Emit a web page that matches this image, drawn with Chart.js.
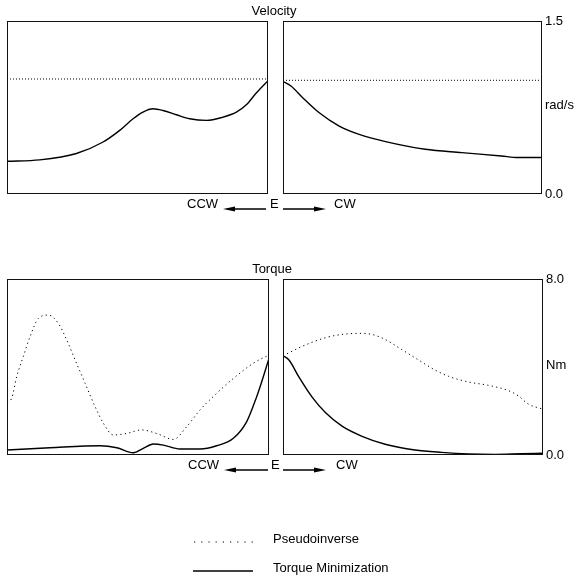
<!DOCTYPE html>
<html>
<head>
<meta charset="utf-8">
<script src="https://cdn.jsdelivr.net/npm/chart.js@4.4.0/dist/chart.umd.min.js"></script>
<style>
  body { margin: 0; background: #fff; }
  #wrap { position: relative; width: 576px; height: 581px; overflow: hidden;
          font-family: "Liberation Sans", Arial, sans-serif; font-size: 13px; color: #000; }
  #wrap canvas { position: absolute; left: 0; top: 0; }
  #wrap svg { position: absolute; left: 0; top: 0; }
  .lbl { position: absolute; white-space: nowrap; line-height: 1; }
</style>
</head>
<body>
<div id="wrap">
  <canvas id="velCcw" width="576" height="581"></canvas>
  <canvas id="velCw" width="576" height="581"></canvas>
  <canvas id="torCcw" width="576" height="581"></canvas>
  <canvas id="torCw" width="576" height="581"></canvas>

  <svg width="576" height="581">
    <!-- direction arrows under each pair of panels -->
    <g stroke="#000" stroke-width="1.6" fill="#000">
      <line x1="230" y1="209" x2="266" y2="209"/>
      <polygon points="223,209 235,206.5 235,211.5" stroke="none"/>
      <line x1="283" y1="209" x2="318" y2="209"/>
      <polygon points="326,209 314,206.5 314,211.5" stroke="none"/>
      <line x1="231" y1="470" x2="268" y2="470"/>
      <polygon points="224,470 236,467.5 236,472.5" stroke="none"/>
      <line x1="283" y1="470" x2="318" y2="470"/>
      <polygon points="326,470 314,467.5 314,472.5" stroke="none"/>
    </g>
    <!-- legend samples -->
    <line x1="194" y1="542" x2="253" y2="542" stroke="#000" stroke-width="1.2" stroke-dasharray="1.2 6"/>
    <line x1="193" y1="571" x2="253" y2="571" stroke="#000" stroke-width="1.6"/>
  </svg>

  <div class="lbl" style="left:274px;top:4px;transform:translateX(-50%)">Velocity</div>
  <div class="lbl" style="left:272px;top:262px;transform:translateX(-50%)">Torque</div>
  <div class="lbl" style="left:545px;top:98px">rad/s</div>
  <div class="lbl" style="left:546px;top:358px">Nm</div>
  <div class="lbl" style="left:187px;top:197px">CCW</div>
  <div class="lbl" style="left:270px;top:197px">E</div>
  <div class="lbl" style="left:334px;top:197px">CW</div>
  <div class="lbl" style="left:188px;top:458px">CCW</div>
  <div class="lbl" style="left:271px;top:458px">E</div>
  <div class="lbl" style="left:336px;top:458px">CW</div>
  <div class="lbl" style="left:273px;top:532px">Pseudoinverse</div>
  <div class="lbl" style="left:273px;top:561px">Torque Minimization</div>
</div>

<script>
// position along each half of the motion, 0 = start, 1 = the E point
// velocity, CCW half (rad/s)
const velCcwX = [0, .125, .266, .368, .432, .483, .521, .559, .598, .649, .7, .764, .828, .879, .917, .955, 1];
const velCcwTorqueMin = [0.284, 0.296, 0.351, 0.451, 0.552, 0.652, 0.71, 0.739, 0.724, 0.687, 0.652, 0.638, 0.667, 0.71, 0.773, 0.876, 0.983];
const velCcwPinvX = [0, 1];
const velCcwPinv = [0.997, 0.997];

// velocity, CW half
const velCwX = [0, .032, .077, .14, .217, .294, .396, .549, .69, .843, .907, 1];
const velCwTorqueMin = [0.977, 0.934, 0.833, 0.704, 0.589, 0.517, 0.454, 0.388, 0.359, 0.33, 0.316, 0.316];
const velCwPinvX = [0, 1];
const velCwPinv = [0.986, 0.986];

// torque, CCW half (Nm)
const torCcwPinvX = [0, .018, .037, .062, .088, .12, .158, .196, .228, .26, .298, .336, .368, .406, .457, .514, .571, .635, .686, .737, .8, .864, .94, 1];
const torCcwPinv = [2.4, 2.58, 3.56, 4.47, 5.38, 6.21, 6.36, 5.98, 5.23, 4.32, 3.26, 2.2, 1.44, 0.91, 0.98, 1.14, 0.98, 0.71, 1.29, 2.05, 2.8, 3.48, 4.17, 4.55];
const torCcwTorqueMinX = [0, .164, .355, .419, .482, .52, .558, .597, .66, .737, .8, .864, .915, .953, .966, 1];
const torCcwTorqueMin = [0.23, 0.33, 0.42, 0.33, 0.1, 0.3, 0.5, 0.45, 0.27, 0.27, 0.42, 0.76, 1.52, 2.65, 3.1, 4.39];

// torque, CW half
const torCwPinvX = [0, .074, .163, .227, .291, .342, .393, .457, .521, .585, .636, .713, .789, .866, .904, .943, 1];
const torCwPinv = [4.51, 4.94, 5.33, 5.48, 5.53, 5.48, 5.25, 4.79, 4.32, 3.86, 3.58, 3.32, 3.17, 2.93, 2.7, 2.32, 2.08];
const torCwTorqueMinX = [0, .023, .061, .112, .163, .227, .304, .393, .508, .61, .713, .815, .917, 1];
const torCwTorqueMin = [4.51, 4.32, 3.55, 2.63, 1.93, 1.31, 0.85, 0.49, 0.23, 0.12, 0.05, 0.03, 0.06, 0.08];

const velTicks = [0, 1.5];
const torTicks = [0, 8];

const FONT = '"Liberation Sans", Arial, sans-serif';

// box around each panel
const frame = {
    id: 'frame',
    afterDatasetsDraw(chart) {
        const {ctx, chartArea: a} = chart;
        ctx.save();
        ctx.strokeStyle = '#111';
        ctx.lineWidth = 1;
        ctx.strokeRect(Math.round(a.left) + 0.5, Math.round(a.top) + 0.5,
            Math.round(a.right - a.left) - 1, Math.round(a.bottom - a.top) - 1);
        ctx.restore();
    }
};

function series(xs, ys, dash) {
    return {
        data: xs.map((x, i) => ({x: x, y: ys[i]})),
        borderColor: '#000',
        borderWidth: dash ? 1 : 1.4,
        borderDash: dash || [],
        pointRadius: 0,
        cubicInterpolationMode: 'monotone',
        fill: false
    };
}

function panel(id, pad, yMax, datasets, ticks, axisW) {
    const y = {min: 0, max: yMax, display: false};
    if (ticks) {
        Object.assign(y, {
            display: true,
            position: 'right',
            grid: {display: false, drawTicks: false, tickLength: 0},
            border: {display: false},
            afterBuildTicks: s => { s.ticks = ticks.map(v => ({value: v})); },
            afterFit: s => { s.width = axisW; },
            ticks: {padding: 3, color: '#000', font: {family: FONT, size: 13},
                    callback: v => Number(v).toFixed(1)}
        });
    }
    new Chart(document.getElementById(id), {
        type: 'line',
        data: {datasets: datasets},
        options: {
            responsive: false,
            animation: false,
            events: [],
            layout: {padding: pad},
            plugins: {legend: {display: false}, tooltip: {enabled: false}},
            scales: {
                x: {type: 'linear', min: 0, max: 1, display: false},
                y: y
            }
        },
        plugins: [frame]
    });
}

panel('velCcw', {left: 7, top: 21, right: 308, bottom: 387}, 1.5, [
    series(velCcwPinvX, velCcwPinv, [1, 2]),
    series(velCcwX, velCcwTorqueMin)
]);
panel('velCw', {left: 283, top: 21, right: 0, bottom: 387}, 1.5, [
    series(velCwPinvX, velCwPinv, [1, 2]),
    series(velCwX, velCwTorqueMin)
], velTicks, 34);
panel('torCcw', {left: 7, top: 279, right: 307, bottom: 126}, 8, [
    series(torCcwPinvX, torCcwPinv, [1.2, 3.3]),
    series(torCcwTorqueMinX, torCcwTorqueMin)
]);
panel('torCw', {left: 283, top: 279, right: 0, bottom: 126}, 8, [
    series(torCwPinvX, torCwPinv, [1.2, 3.3]),
    series(torCwTorqueMinX, torCwTorqueMin)
], torTicks, 33);
</script>
</body>
</html>
